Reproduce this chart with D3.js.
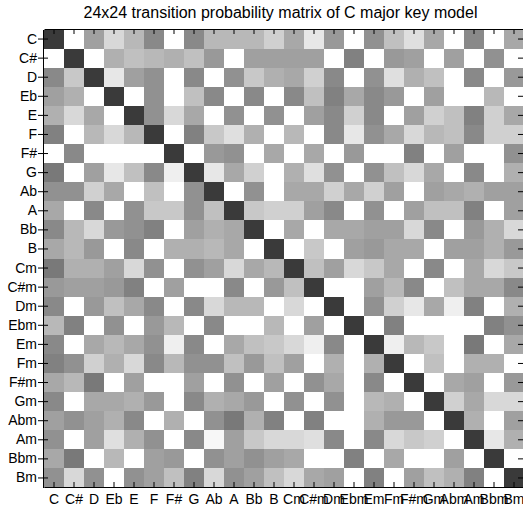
<!DOCTYPE html>
<html>
<head>
<meta charset="utf-8">
<script src="https://cdn.jsdelivr.net/npm/d3@7"></script>
<style>
  html, body { margin: 0; padding: 0; background: #fff; }
  svg { display: block; }
  text { font-family: "Liberation Sans", Arial, Helvetica, sans-serif; }
</style>
</head>
<body>
<svg id="chart" width="523" height="510"></svg>
<script>
const title = "24x24 transition probability matrix of C major key model";
const chords = ["C","C#","D","Eb","E","F","F#","G","Ab","A","Bb","B",
                "Cm","C#m","Dm","Ebm","Em","Fm","F#m","Gm","Abm","Am","Bbm","Bm"];

// Transition weights (row = from chord, column = to chord)
const values = [
  [25,0,12,5,9,15,0,15,9,9,9,6,11,3,13,0,14,8,4,11,0,15,0,11],
  [0,25,0,10,8,9,10,8,13,0,12,12,12,12,0,16,0,13,12,0,12,0,14,0],
  [15,7,25,3,12,14,0,15,0,14,7,10,11,6,15,0,14,4,10,8,0,15,0,13],
  [12,10,0,25,0,14,0,8,15,0,15,0,15,8,16,11,15,13,0,12,0,0,9,0],
  [10,5,11,0,25,14,5,11,0,14,0,14,0,12,15,6,15,0,12,6,8,16,6,11],
  [16,0,9,5,9,25,0,16,7,4,10,0,9,0,15,3,14,11,5,9,8,15,6,6],
  [0,15,0,0,0,0,25,0,13,14,0,11,0,11,0,13,0,0,16,0,12,0,0,14],
  [17,0,12,3,8,15,2,25,3,11,6,0,10,4,14,0,14,8,5,11,0,15,0,10],
  [14,14,6,11,0,8,0,14,25,0,14,0,11,11,6,11,6,12,0,12,11,10,12,12],
  [11,0,15,0,14,7,7,14,8,25,7,6,6,12,15,0,14,0,12,8,8,16,0,12],
  [15,9,5,13,14,16,0,12,10,11,25,0,11,0,11,11,12,12,5,15,0,13,10,5],
  [11,9,13,0,15,0,10,10,9,11,0,25,0,7,0,12,13,11,11,0,12,12,10,13],
  [17,10,10,12,5,14,0,14,12,5,11,9,25,8,12,5,7,11,0,15,0,11,5,7],
  [13,12,12,13,16,0,12,0,0,15,0,13,8,25,0,0,12,9,15,0,8,11,11,15],
  [15,0,13,8,11,15,0,15,5,9,9,0,5,0,25,0,14,6,3,11,2,16,0,10],
  [9,16,0,14,0,13,9,0,15,0,0,9,0,12,0,25,0,16,0,0,0,0,16,14],
  [15,0,11,9,11,14,2,15,0,11,8,7,5,2,15,0,25,2,9,7,0,17,0,11],
  [16,14,6,10,5,15,9,14,14,8,13,8,12,0,10,0,10,25,0,8,0,10,10,0],
  [11,9,17,0,12,0,0,12,0,14,0,12,0,14,11,0,15,0,25,0,11,12,0,13],
  [15,0,11,11,10,13,0,15,10,11,13,0,14,0,14,0,9,10,0,25,6,11,5,5],
  [12,14,12,10,15,0,10,0,14,17,10,16,0,16,0,0,10,13,13,0,25,10,0,12],
  [14,0,12,4,10,14,0,15,1,12,7,5,5,4,15,0,15,5,7,6,0,25,3,10],
  [11,17,0,9,0,12,13,0,14,12,14,12,11,0,0,16,0,11,0,0,12,0,25,0],
  [14,5,14,0,14,12,8,16,5,14,12,8,5,11,12,0,16,0,12,8,10,16,0,25]
];

const svg = d3.select("#chart");
const plotLeft = 44, plotRight = 524, plotTop = 29.5, plotBottom = 487.5;

const x = d3.scaleBand().domain(chords).range([plotLeft, plotRight]).padding(0);
const y = d3.scaleBand().domain(chords).range([plotTop, plotBottom]).padding(0);
const color = d3.scaleLinear().domain([0, 25]).range(["#ffffff", "#3a3a3a"]);

const cells = [];
values.forEach((row, i) => row.forEach((v, j) => cells.push({ r: chords[i], c: chords[j], v })));

svg.append("g")
  .selectAll("rect")
  .data(cells)
  .join("rect")
  .attr("x", d => x(d.c))
  .attr("y", d => y(d.r))
  .attr("width", x.bandwidth() + 0.3)
  .attr("height", y.bandwidth() + 0.3)
  .attr("fill", d => color(d.v))
  .attr("shape-rendering", "crispEdges");

function styleAxis(g) {
  g.attr("font-family", null).attr("font-size", null);
  g.selectAll("path.domain").attr("stroke", "#000").attr("stroke-width", 1);
  g.selectAll(".tick line").attr("stroke", "#000").attr("stroke-width", 1);
  g.selectAll(".tick text").attr("fill", "#000")
    .style("font-family", '"Liberation Sans", Arial, Helvetica, sans-serif')
    .style("font-size", "14px");
}

// Left axis: labels with a short outward tick, plus inward ticks
svg.append("g")
  .attr("transform", `translate(${plotLeft - 1},0)`)
  .call(d3.axisLeft(y).tickSizeInner(5).tickSizeOuter(0).tickPadding(1))
  .call(styleAxis);
svg.append("g")
  .attr("transform", `translate(${plotLeft - 1},0)`)
  .call(d3.axisLeft(y).tickSizeInner(-5).tickSizeOuter(0).tickFormat(""))
  .call(styleAxis);

// Bottom axis with inward ticks
svg.append("g")
  .attr("transform", `translate(0,${plotBottom - 0.5})`)
  .call(d3.axisBottom(x).tickSizeInner(-5).tickSizeOuter(0).tickPadding(7.5))
  .call(styleAxis);

// Top axis (no labels)
svg.append("g")
  .attr("transform", `translate(0,${plotTop - 0.5})`)
  .call(d3.axisTop(x).tickSizeInner(-5).tickSizeOuter(0).tickFormat(""))
  .call(styleAxis);

// Right axis (no labels)
svg.append("g")
  .attr("transform", `translate(${plotRight - 1},0)`)
  .call(d3.axisRight(y).tickSizeInner(-5).tickSizeOuter(0).tickFormat(""))
  .call(styleAxis);

svg.append("text")
  .attr("x", 280.5)
  .attr("y", 18.3)
  .attr("text-anchor", "middle")
  .style("font-size", "16px")
  .attr("fill", "#000")
  .text(title);
</script>
</body>
</html>
